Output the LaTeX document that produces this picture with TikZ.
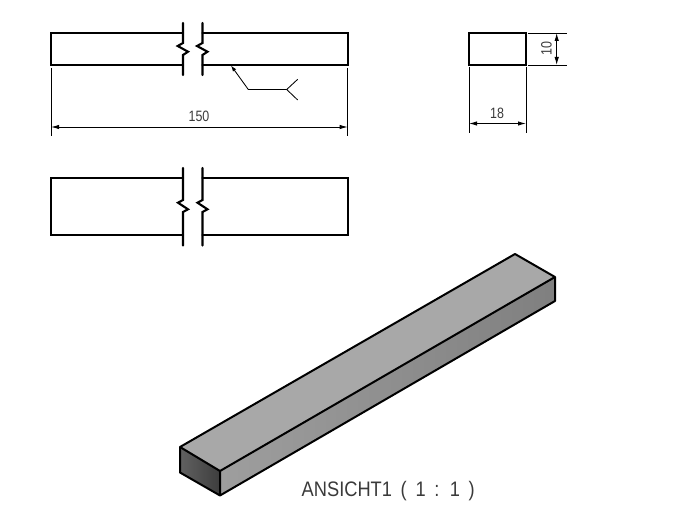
\documentclass[tikz,border=0pt]{standalone}
\usepackage{fontspec}
\setmainfont{Liberation Sans}
\usetikzlibrary{arrows.meta}
\definecolor{inktext}{HTML}{3A3A3A}
\newcommand{\dimtxt}[1]{\scalebox{.83}[1]{#1}}
\tikzset{
  thick line/.style={line width=2.1pt,black,line cap=round,line join=miter},
  thin line/.style={line width=0.85pt,black},
  dim line/.style={line width=0.85pt,black,{Latex[length=8pt,width=4.4pt]}-{Latex[length=8pt,width=4.4pt]}},
  dim text/.style={inner sep=0pt,text=inktext,anchor=base,font=\fontsize{15}{16}\selectfont},
  iso edge/.style={line width=2pt,black,line join=round}
}
\begin{document}
\begin{tikzpicture}[x=1pt,y=-1pt]
\useasboundingbox (0,0) rectangle (686,532);
% --- top view
\coordinate (tl) at (51,33); \coordinate (tr) at (348,33);
\coordinate (bl) at (51,65); \coordinate (br) at (348,65);
\coordinate (ba) at (183,33); \coordinate (bb) at (183,65);
\coordinate (ca) at (202.5,33); \coordinate (cb) at (202.5,65);
\draw[thick line] (ba) -- (tl) -- (bl) -- (bb);
\draw[thick line] (ca) -- (tr) -- (br) -- (cb);
\draw[thick line] (183,23) -- (183,43) -- (177.7,46) -- (188,51.7) -- (183,55) -- (183,75);
\draw[thick line] (202.5,23) -- (202.5,43) -- (197,46) -- (207.5,51.7) -- (202.5,55) -- (202.5,75);
% weld symbol
\coordinate (wa) at (231,65.5); \coordinate (wb) at (248.3,89.5); \coordinate (wc) at (286.7,89.5);
\coordinate (wd) at (297.7,79.3); \coordinate (we) at (297.7,100);
\draw[thin line,{Latex[length=6pt,width=4pt]}-] (wa) -- (wb) -- (wc);
\draw[thin line] (wd) -- (wc) -- (we);
% dim 150
\coordinate (d1a) at (51,68); \coordinate (d1b) at (51,136.5);
\coordinate (d2a) at (347.7,68); \coordinate (d2b) at (347.7,136.5);
\coordinate (d1) at (51,127); \coordinate (d2) at (347.7,127);
\draw[thin line] (d1a) -- (d1b); \draw[thin line] (d2a) -- (d2b);
\draw[dim line] (d1) -- (d2);
\node[dim text] (t150) at (199,122) {\dimtxt{150}};
% --- side view
\draw[thick line] (469,33) rectangle (526,65);
\coordinate (e1a) at (528,33); \coordinate (e1b) at (567,33);
\coordinate (e2a) at (528,65); \coordinate (e2b) at (567,65);
\draw[thin line] (e1a) -- (e1b); \draw[thin line] (e2a) -- (e2b);
\coordinate (e3) at (556.7,33); \coordinate (e4) at (556.7,65);
\draw[dim line] (e3) -- (e4);
\node[dim text,rotate=90] (t10) at (551.5,48.5) {\dimtxt{10}};
\coordinate (f1a) at (469,67); \coordinate (f1b) at (469,133);
\coordinate (f2a) at (526,67); \coordinate (f2b) at (526,133);
\draw[thin line] (f1a) -- (f1b); \draw[thin line] (f2a) -- (f2b);
\coordinate (f1) at (469,123.5); \coordinate (f2) at (526,123.5);
\draw[dim line] (f1) -- (f2);
\node[dim text] (t18) at (497,119) {\dimtxt{18}};
% --- front view
\draw[thick line] (183,178) -- (51,178) -- (51,235) -- (183,235);
\draw[thick line] (202.5,178) -- (348,178) -- (348,235) -- (202.5,235);
\draw[thick line] (183,168) -- (183,200) -- (178,202.7) -- (188,209.3) -- (183,212) -- (183,245.5);
\draw[thick line] (202.5,168) -- (202.5,200) -- (197.5,202.7) -- (207.5,209.3) -- (202.5,212) -- (202.5,245.5);
% --- isometric bar
\coordinate (p1) at (180,447); \coordinate (p2) at (515,254);
\coordinate (p3) at (555,277); \coordinate (p4) at (220,471);
\coordinate (p5) at (555,301); \coordinate (p6) at (220,495.5);
\coordinate (p7) at (180,472.5);
\path[fill=black!34] (p1) -- (p2) -- (p3) -- (p4) -- cycle;
\path[left color=black!38,right color=black!50] (p4) -- (p3) -- (p5) -- (p6) -- cycle;
\path[left color=black!62,right color=black!76] (p1) -- (p4) -- (p6) -- (p7) -- cycle;
\draw[iso edge] (p1) -- (p2) -- (p3) -- (p5) -- (p6) -- (p7) -- cycle;
\draw[iso edge] (p1) -- (p4) -- (p6);
\draw[iso edge] (p4) -- (p3);
\node[inner sep=0pt,text=inktext,anchor=base west,font=\fontsize{21}{22}\selectfont] (title) at (301.5,496) {\scalebox{.87}[1]{\spaceskip=10pt ANSICHT1 ( 1 : 1 )}};
\end{tikzpicture}
\end{document}
